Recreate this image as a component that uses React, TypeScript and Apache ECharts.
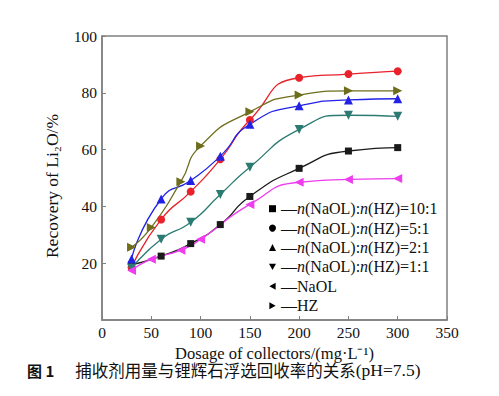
import React, { useEffect, useRef } from "react";
import * as echarts from "echarts";

const dosageMix = [30, 60, 90, 120, 150, 200, 250, 300];
const dosageSingle = [30, 50, 80, 100, 150, 200, 250, 300];
const ratio10to1 = [19.5, 22.5, 26.9, 33.6, 43.5, 53.4, 59.5, 60.7];
const ratio5to1 = [18.5, 35.4, 45.2, 56.6, 70.4, 85.3, 86.6, 87.6];
const ratio2to1 = [21.5, 42.6, 49.1, 57.7, 68.9, 75.4, 77.5, 77.9];
const ratio1to1 = [18.2, 28.4, 34.4, 44.2, 53.8, 67.1, 72.1, 71.7];
const naol = [17.4, 21.4, 24.6, 28.4, 40.7, 48.5, 49.5, 49.8];
const hz = [25.6, 32.6, 48.7, 61.3, 73.3, 79.2, 80.7, 80.7];

const SERIF = "'Liberation Serif', serif";
const CJK = "'Noto Sans CJK SC', sans-serif";

const pair = (xs: number[], ys: number[]) => xs.map((x, i) => [x, ys[i]]);

const SYM_DOWN = "path://M0,0L10,0L5,9Z";
const SYM_LEFT = "path://M9,0L9,10L0,5Z";
const SYM_RIGHT = "path://M0,0L0,10L9,5Z";

const seriesDefs = [
  { name: "r10", label: "{d|—}{i|n}{r|(NaOL):}{i|n}{r|(HZ)=10:1}", x: dosageMix, y: ratio10to1, color: "#1a1a1a", symbol: "rect", size: 7 },
  { name: "r5", label: "{d|—}{i|n}{r|(NaOL):}{i|n}{r|(HZ)=5:1}", x: dosageMix, y: ratio5to1, color: "#e8212b", symbol: "circle", size: 8 },
  { name: "r2", label: "{d|—}{i|n}{r|(NaOL):}{i|n}{r|(HZ)=2:1}", x: dosageMix, y: ratio2to1, color: "#2222e6", symbol: "triangle", size: 9 },
  { name: "r1", label: "{d|—}{i|n}{r|(NaOL):}{i|n}{r|(HZ)=1:1}", x: dosageMix, y: ratio1to1, color: "#2c7b72", symbol: SYM_DOWN, size: 9 },
  { name: "NaOL", label: "{d|—}{r|NaOL}", x: dosageSingle, y: naol, color: "#ee3cee", symbol: SYM_LEFT, size: 9 },
  { name: "HZ", label: "{d|—}{r|HZ}", x: dosageSingle, y: hz, color: "#6d6d1c", symbol: SYM_RIGHT, size: 9 },
];

export default function App() {
  const ref = useRef<HTMLDivElement>(null);
  useEffect(() => {
    const chart = echarts.init(ref.current!, null, { renderer: "svg" });
    const labelMap: Record<string, string> = {};
    seriesDefs.forEach((s) => (labelMap[s.name] = s.label));
    const txt = { fontFamily: SERIF, fontSize: 16, color: "#111", lineHeight: 19.4 };
    chart.setOption({
      animation: false,
      backgroundColor: "#fff",
      grid: {
        left: 102,
        top: 36,
        width: 345,
        height: 284,
        show: true,
        borderColor: "#808080",
        borderWidth: 1.5,
        backgroundColor: "transparent",
      },
      xAxis: {
        type: "value",
        min: 0,
        max: 350,
        interval: 50,
        name: "Dosage of collectors/(mg·L⁻¹)",
        nameLocation: "middle",
        nameGap: 13,
        nameTextStyle: { fontFamily: SERIF, fontSize: 16.5, color: "#111", lineHeight: 18 },
        axisLine: { lineStyle: { color: "#808080", width: 1.5 } },
        axisTick: { inside: true, length: 4, lineStyle: { color: "#808080" } },
        axisLabel: { margin: 4, fontFamily: SERIF, fontSize: 15.5, color: "#111" },
        splitLine: { show: false },
      },
      yAxis: {
        type: "value",
        min: 0,
        max: 100,
        interval: 20,
        axisLine: { show: true, lineStyle: { color: "#808080", width: 1.5 } },
        axisTick: { show: true, inside: true, length: 4, lineStyle: { color: "#808080" } },
        axisLabel: { margin: 5, fontFamily: SERIF, fontSize: 15.5, color: "#111", showMinLabel: false },
        splitLine: { show: false },
      },
      legend: {
        orient: "vertical",
        left: 264,
        top: 194,
        itemWidth: 7,
        itemHeight: 7,
        itemGap: 0,
        data: seriesDefs.map((s) => ({
          name: s.name,
          icon: s.symbol,
          itemStyle: { color: "#000" },
        })),
        formatter: (name: string) => labelMap[name],
        textStyle: {
          ...txt,
          rich: {
            d: { ...txt },
            i: { ...txt, fontStyle: "italic" },
            r: { ...txt },
          },
        },
      },
      series: seriesDefs.map((s) => ({
        name: s.name,
        type: "line",
        data: pair(s.x, s.y),
        smooth: 0.6,
        symbol: s.symbol,
        symbolSize: s.size,
        itemStyle: { color: s.color },
        lineStyle: { color: s.color, width: 1.3 },
      })),
      graphic: [
        {
          type: "text",
          x: 52,
          y: 186,
          rotation: Math.PI / 2,
          style: {
            text: "Recovery of Li₂O/%",
            fontFamily: SERIF,
            fontSize: 17.5,
            fill: "#111",
            align: "center",
            verticalAlign: "middle",
          },
        },
        {
          type: "text",
          x: 27,
          y: 370,
          style: {
            text: "{b|图 1}{s|}{c|捕收剂用量与锂辉石浮选回收率的关系}{e|(pH=7.5)}",
            verticalAlign: "middle",
            rich: {
              b: { fontFamily: CJK, fontSize: 15, fontWeight: "bold", fill: "#111", lineHeight: 16 },
              s: { width: 21, fontSize: 15, lineHeight: 16 },
              c: { fontFamily: CJK, fontSize: 16.5, fill: "#111", lineHeight: 16 },
              e: { fontFamily: SERIF, fontSize: 17.5, fill: "#111", lineHeight: 16 },
            },
          },
        },
      ],
    });
    return () => chart.dispose();
  }, []);
  return (
    <div
      ref={ref}
      style={{ position: "absolute", left: 0, top: 0, width: 499, height: 396, background: "#fff" }}
    />
  );
}
